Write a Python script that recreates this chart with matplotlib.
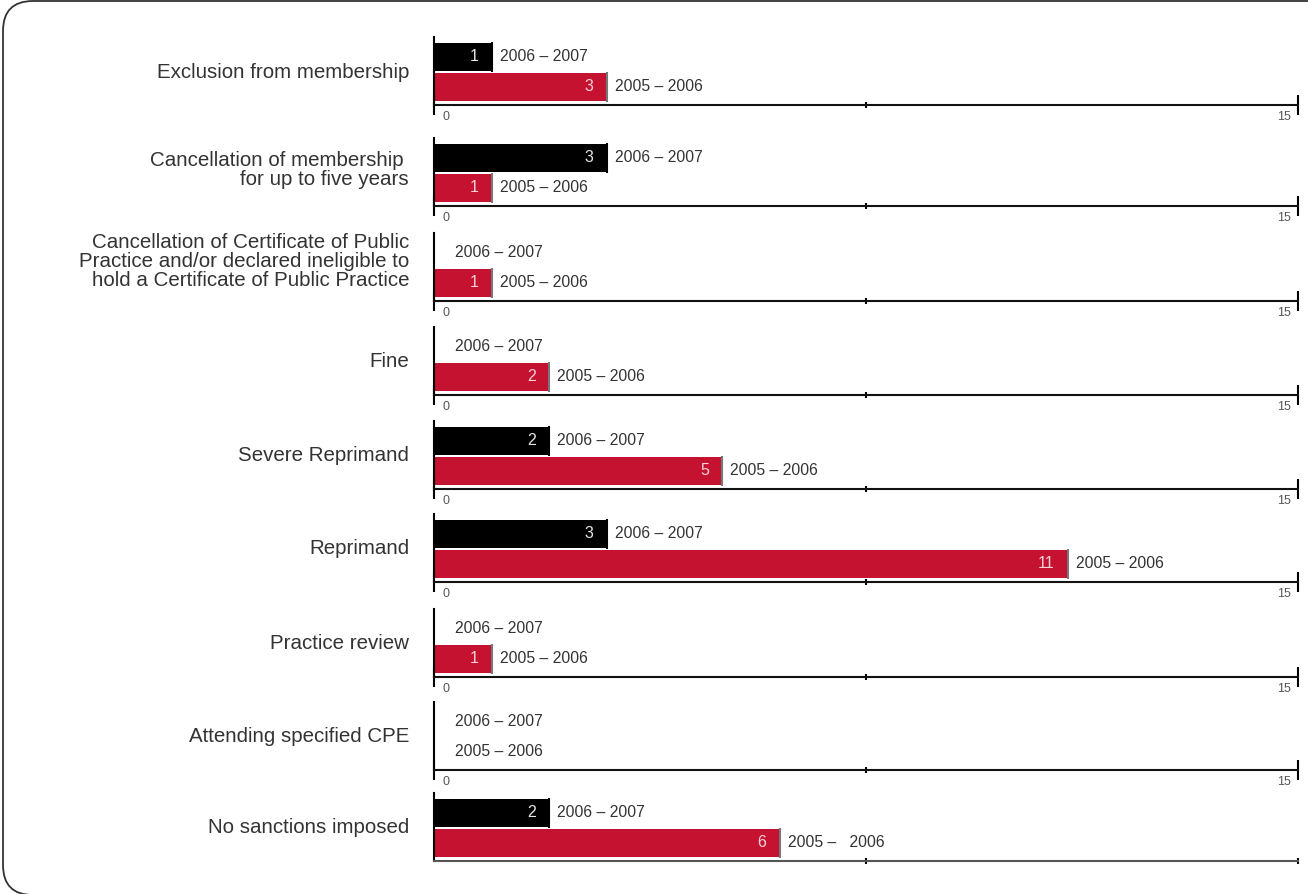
import matplotlib
matplotlib.use('Agg')
import matplotlib.pyplot as plt
from matplotlib.patches import FancyBboxPatch

plt.rcParams['font.family'] = ['Liberation Sans', 'DejaVu Sans']

categories = ['Exclusion from membership',
              'Cancellation of membership \nfor up to five years',
              'Cancellation of Certificate of Public\nPractice and/or declared ineligible to\nhold a Certificate of Public Practice',
              'Fine',
              'Severe Reprimand',
              'Reprimand',
              'Practice review',
              'Attending specified CPE',
              'No sanctions imposed']
v_0607 = [1, 3, 0, 0, 2, 3, 0, 0, 2]
v_0506 = [3, 1, 1, 2, 5, 11, 1, 0, 6]
lab_0607 = ['2006 – 2007'] * 9
lab_0506 = ['2005 – 2006'] * 8 + ['2005 –   2006']
xmax = 15

W, H = 1308, 894
# bottom (axis line) of every panel, in pixels from top
bottoms = [105, 206, 301, 395, 489, 582, 677, 770, 861]
# small vertical nudge of the category label (pixels, up is positive)
lab_shift = [-1, 3, 6, 0, 0, 0, 0, 0, 0]
ph = 68
left, right = 434, 1298

RED = '#c41230'
TXT = '#333333'

fig = plt.figure(figsize=(W / 100, H / 100), dpi=100)

# rounded frame
frame = FancyBboxPatch((0.03, -0.01), 13.5, 8.94,
                       boxstyle='round,pad=0,rounding_size=0.3',
                       transform=fig.dpi_scale_trans, fill=False,
                       ec='#333333', lw=1.3)
fig.patches.append(frame)

n = len(categories)
for i in range(n):
    b = bottoms[i]
    ax = fig.add_axes([left / W, 1 - b / H, (right - left) / W, ph / H])
    ax.set_xlim(0, xmax)
    ax.set_ylim(-0.6, 1.65)
    last = (i == n - 1)

    for y, v, col, lab, vcol, ecol in [(1, v_0607[i], 'black', lab_0607[i], '#e6e6e6', 'black'),
                                       (0, v_0506[i], RED, lab_0506[i], '#f4d2d8', '#777777')]:
        if v > 0:
            ax.barh(y, v, height=0.93, color=col, left=0)
            ax.vlines(v, y - 0.5, y + 0.5, color=ecol, lw=1.5)
            ax.annotate(str(v), xy=(v, y), xytext=(-13, 0), textcoords='offset pixels',
                        ha='right', va='center', fontsize=11.5, color=vcol)
            off = 8
        else:
            off = 21
        ax.annotate(lab, xy=(v, y), xytext=(off, 0), textcoords='offset pixels',
                    ha='left', va='center', fontsize=11.3, color=TXT)

    ax.annotate(categories[i], xy=(0, 0.5), xycoords=('axes fraction', 'data'),
                xytext=(-25, lab_shift[i]), textcoords='offset pixels', ha='right',
                va='center', fontsize=14.8, color=TXT, linespacing=1.0)

    for s in ['top', 'right']:
        ax.spines[s].set_visible(False)
    ax.spines['left'].set_linewidth(1.5)
    ax.spines['bottom'].set_linewidth(1.5)
    ax.spines['bottom'].set_color('#555555' if last else '#111111')
    ax.set_yticks([])
    if last:
        ax.set_xticks([7.5, 15])
        ax.tick_params(axis='x', direction='inout', length=4, width=1.5,
                       labelbottom=False)
    else:
        ax.set_xticks([0, 15])
        ax.set_xticks([7.5], minor=True)
        ax.tick_params(axis='x', which='major', direction='inout', length=14, width=1.5,
                       labelbottom=False)
        ax.tick_params(axis='x', which='minor', direction='inout', length=5, width=1.5)
        ax.text(0.15, -0.09, '0', transform=ax.get_xaxis_transform(), ha='left',
                va='top', fontsize=9, color='#555555')
        ax.text(xmax - 0.12, -0.09, str(xmax), transform=ax.get_xaxis_transform(),
                ha='right', va='top', fontsize=9, color='#555555')

fig.savefig('out.png', dpi=100)
